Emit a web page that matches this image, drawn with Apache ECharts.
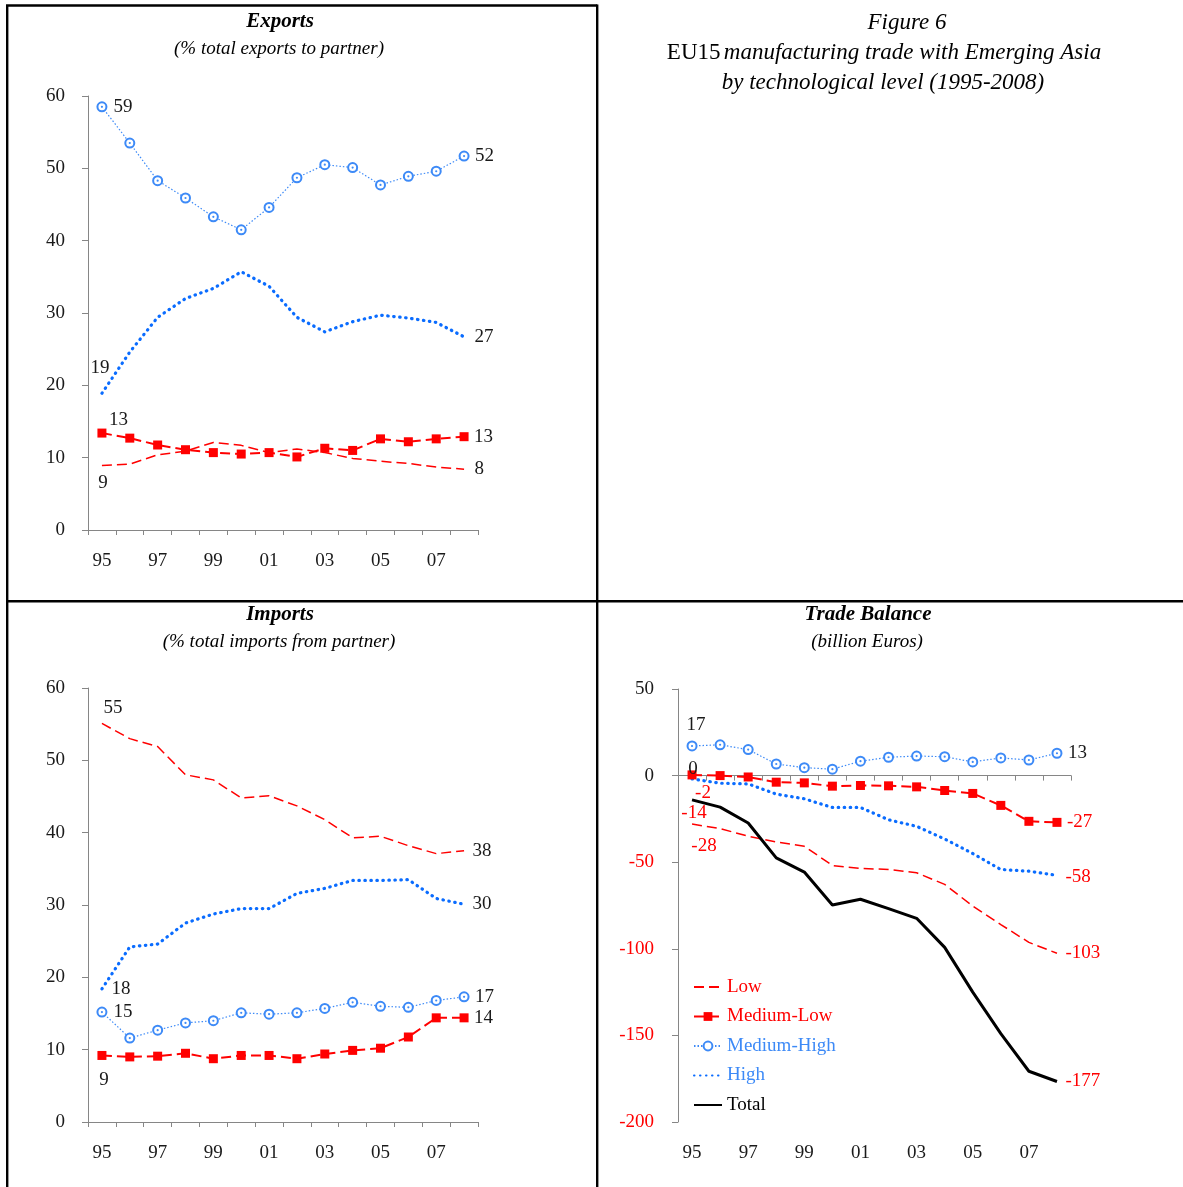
<!DOCTYPE html>
<html>
<head>
<meta charset="utf-8">
<script src="https://cdn.jsdelivr.net/npm/echarts@6/dist/echarts.min.js"></script>
<style>
html,body{margin:0;padding:0;background:#fff;}
#c{width:1183px;height:1187px;}
</style>
</head>
<body>
<div id="c"></div>
<script>
// ---------- DATA ----------
const years = ['95','96','97','98','99','00','01','02','03','04','05','06','07','08'];
const seriesNames = ['Low','Medium-Low','Medium-High','High','Total'];

// Exports (% total exports to partner)
const expLow      = [8.9, 9.1, 10.4, 10.9, 12.1, 11.7, 10.7, 11.2, 10.7, 9.9, 9.5, 9.2, 8.7, 8.4];
const expMedLow   = [13.4, 12.7, 11.75, 11.1, 10.7, 10.5, 10.7, 10.1, 11.3, 11.0, 12.6, 12.2, 12.6, 12.9];
const expMedHigh  = [58.5, 53.5, 48.3, 45.9, 43.3, 41.5, 44.6, 48.7, 50.5, 50.1, 47.7, 48.9, 49.6, 51.7];
const expHigh     = [18.9, 24.6, 29.4, 32.0, 33.4, 35.7, 33.7, 29.4, 27.4, 28.8, 29.7, 29.3, 28.7, 26.7];

// Imports (% total imports from partner)
const impLow      = [55.1, 53.0, 51.9, 48.0, 47.3, 44.8, 45.1, 43.7, 41.8, 39.3, 39.5, 38.2, 37.1, 37.5];
const impMedLow   = [9.2, 9.0, 9.1, 9.5, 8.75, 9.2, 9.2, 8.75, 9.4, 9.9, 10.2, 11.75, 14.4, 14.4];
const impMedHigh  = [15.2, 11.6, 12.7, 13.7, 14.0, 15.1, 14.9, 15.1, 15.7, 16.55, 16.0, 15.85, 16.8, 17.3];
const impHigh     = [18.4, 24.2, 24.6, 27.5, 28.75, 29.5, 29.5, 31.6, 32.3, 33.4, 33.4, 33.5, 30.9, 30.1];

// Trade balance (billion Euros)
const balLow      = [-28, -30.6, -35, -38.3, -40.8, -51.9, -53.6, -54.2, -56.1, -62.8, -75.3, -86, -96.3, -102.6];
const balMedLow   = [0.4, 0, -0.8, -3.8, -4.2, -6.1, -5.7, -5.9, -6.5, -8.6, -10.3, -17.2, -26.4, -27.0];
const balMedHigh  = [17.1, 17.8, 15.0, 6.7, 4.6, 3.7, 8.3, 10.6, 11.3, 10.9, 7.9, 10.2, 9.0, 12.9];
const balHigh     = [-1.9, -4.4, -4.8, -10.7, -13.4, -18.4, -18.4, -25.5, -29.3, -36.6, -45, -54.2, -55.2, -57.6];
const balTotal    = [-14, -18.2, -27.4, -47.5, -55.7, -74.7, -71.4, -76.8, -82.4, -99.2, -125, -149, -170.7, -176.6];

// Axis ticks
const pctTicks = {min: 0, max: 60, interval: 10};
const balTicks = {min: -200, max: 50, interval: 50};

// Titles
const figTitle1 = 'Figure 6';
const figTitle2a = 'EU15';
const figTitle2b = 'manufacturing trade with Emerging Asia';
const figTitle3 = 'by technological level (1995-2008)';
const expTitle = 'Exports', expSub = '(% total exports to partner)';
const impTitle = 'Imports', impSub = '(% total imports from partner)';
const balTitle = 'Trade Balance', balSub = '(billion Euros)';

// ---------- STYLE ----------
const FF = "'Liberation Serif', 'DejaVu Serif', serif";
const RED = '#ff0000', BLUE_MH = '#3d8af7', BLUE_H = '#0a6cff', AX = '#868686', TXT = '#1a1a1a';

const STY = {
  'Low':        {color: RED, symbol: 'none', symbolSize: 0, lineStyle: {width: 1.5, type: [10, 5]}},
  'Medium-Low': {color: RED, symbol: 'rect', symbolSize: 9, lineStyle: {width: 2, type: [10, 5]}},
  'Medium-High':{color: BLUE_MH, symbol: 'emptyCircle', symbolSize: 9, lineStyle: {width: 1.2, type: [1.5, 2]}},
  'High':       {color: BLUE_H, symbol: 'none', symbolSize: 0, lineStyle: {width: 3.2, type: [0.5, 5.5], cap: 'round'}},
  'Total':      {color: '#000', symbol: 'none', symbolSize: 0, lineStyle: {width: 3, type: 'solid'}}
};

function lbl(pos, dist, off) { return {position: pos, distance: dist, offset: off || [0, 0]}; }

function labelData(values, firstLbl, lastLbl, colorByValue) {
  return values.map((v, i) => {
    const o = {value: v};
    const L = i === 0 ? firstLbl : (i === values.length - 1 ? lastLbl : null);
    if (L) {
      o.label = Object.assign({show: true,
        color: colorByValue ? (Math.round(v) < 0 ? RED : TXT) : TXT}, L);
    }
    return o;
  });
}
const labelBase = {show: false, fontFamily: FF, fontSize: 19, formatter: p => String(Math.round(p.value))};

function makeSeries(name, values, axisIdx, firstLbl, lastLbl, colorByValue) {
  const s = STY[name];
  const hasSym = s.symbol !== 'none';
  const out = [{
    type: 'line', name: name, xAxisIndex: axisIdx.x, yAxisIndex: axisIdx.y,
    data: hasSym ? labelData(values, firstLbl, lastLbl, colorByValue) : values,
    symbol: s.symbol, symbolSize: s.symbolSize, showSymbol: hasSym,
    lineStyle: Object.assign({color: s.color}, s.lineStyle),
    itemStyle: {color: s.color, borderColor: s.color, borderWidth: s.symbol === 'emptyCircle' ? 1.2 : 0},
    label: labelBase,
    emphasis: {disabled: true}, animation: false, z: 3
  }];
  if (!hasSym) {
    out.push({
      type: 'scatter', name: '_lbl', xAxisIndex: axisIdx.x, yAxisIndex: axisIdx.y,
      data: labelData(values, firstLbl, lastLbl, colorByValue),
      symbol: 'circle', symbolSize: 1, itemStyle: {color: 'rgba(0,0,0,0)', opacity: 1},
      label: labelBase, emphasis: {disabled: true}, silent: true, animation: false, z: 5
    });
  }
  if (s.symbol === 'emptyCircle') {
    out.push({type: 'scatter', name: '_dot', xAxisIndex: axisIdx.x, yAxisIndex: axisIdx.y,
      data: values, symbol: 'circle', symbolSize: 2.2, itemStyle: {color: s.color, opacity: 1},
      emphasis: {disabled: true}, silent: true, animation: false, z: 4});
  }
  return out;
}

const g0 = {x: 0, y: 0}, g1 = {x: 1, y: 1}, g2 = {x: 2, y: 2};

const series = [].concat(
  // Exports
  makeSeries('Low', expLow, g0, lbl('bottom', 7.5, [1, 0]), lbl('right', 10)),
  makeSeries('Medium-Low', expMedLow, g0, lbl('right', 2.5, [0, -13]), lbl('right', 5.5)),
  makeSeries('Medium-High', expMedHigh, g0, lbl('right', 6), lbl('right', 5.5)),
  makeSeries('High', expHigh, g0, lbl('top', 15, [-2, 0]), lbl('right', 10)),
  // Imports
  makeSeries('Low', impLow, g1, lbl('top', 5, [11, 0]), lbl('right', 8)),
  makeSeries('Medium-Low', impMedLow, g1, lbl('bottom', 11, [2, 0]), lbl('right', 5.5)),
  makeSeries('Medium-High', impMedHigh, g1, lbl('right', 6), lbl('right', 5.5)),
  makeSeries('High', impHigh, g1, lbl('right', 9), lbl('right', 8)),
  // Trade balance
  makeSeries('Low', balLow, g2, lbl('bottom', 12, [12, 0]), lbl('right', 8), true),
  makeSeries('Medium-Low', balMedLow, g2, lbl('inside', 0, [1, -6]), lbl('right', 5.5), true),
  makeSeries('Medium-High', balMedHigh, g2, lbl('top', 6, [4, 0]), lbl('right', 5.5), true),
  makeSeries('High', balHigh, g2, lbl('bottom', 4.5, [11, 0]), lbl('right', 8, [0, 2]), true),
  makeSeries('Total', balTotal, g2, lbl('bottom', 3, [2, 0]), lbl('right', 8), true)
);

function catAxis(gridIndex) {
  return {type: 'category', gridIndex: gridIndex, data: years, boundaryGap: true,
    axisLine: {show: true, onZero: false, lineStyle: {color: AX, width: 1}},
    axisTick: {show: true, interval: 0, length: 5, lineStyle: {color: AX}},
    axisLabel: {interval: 1, margin: 22, fontFamily: FF, fontSize: 19, color: TXT},
    splitLine: {show: false}};
}
function valAxis(gridIndex, t, colorFn) {
  return {type: 'value', gridIndex: gridIndex, min: t.min, max: t.max, interval: t.interval,
    axisLine: {show: true, lineStyle: {color: AX, width: 1}},
    axisTick: {show: true, length: 6, lineStyle: {color: AX}},
    axisLabel: {margin: 23, fontFamily: FF, fontSize: 19, color: colorFn || TXT},
    splitLine: {show: false}};
}

const xAxes = [catAxis(0), catAxis(1),
  Object.assign(catAxis(2), {axisLine: {show: false, onZero: false}, axisTick: {show: false}}),
  {type: 'category', gridIndex: 2, data: years, boundaryGap: true, position: 'top',
    axisLine: {show: true, onZero: true, lineStyle: {color: AX, width: 1}},
    axisTick: {show: true, inside: true, interval: 0, length: 5, lineStyle: {color: AX}},
    axisLabel: {show: false}, splitLine: {show: false}}
];
const yAxes = [valAxis(0, pctTicks), valAxis(1, pctTicks),
  valAxis(2, balTicks, v => (Number(v) < 0 ? RED : TXT))];
yAxes[2].axisLabel.margin = 24;

function txt(t, x, y, font) {
  return {type: 'text', silent: true, z: 10,
    style: {text: t, x: x, y: y, align: 'center', verticalAlign: 'middle', font: font, fill: '#000'}};
}
function ln(x1, y1, x2, y2) {
  return {type: 'line', silent: true, z: 20, shape: {x1: x1, y1: y1, x2: x2, y2: y2},
    style: {stroke: '#000', lineWidth: 2.4}};
}
const hideSym = {color: 'rgba(0,0,0,0)', borderColor: 'rgba(0,0,0,0)', opacity: 0};

const option = {
  backgroundColor: '#fff',
  animation: false,
  grid: [
    {left: 88, top: 96, width: 390, height: 434, containLabel: false},
    {left: 88, top: 688, width: 390, height: 434, containLabel: false},
    {left: 678, top: 689, width: 393, height: 433, containLabel: false}
  ],
  xAxis: xAxes,
  yAxis: yAxes,
  legend: {
    orient: 'vertical', left: 693, top: 977.5, padding: 0, itemWidth: 28, itemHeight: 11, itemGap: 10.5,
    selectedMode: false, textStyle: {fontFamily: FF, fontSize: 19},
    data: [
      {name: 'Low', textStyle: {color: RED}, itemStyle: hideSym},
      {name: 'Medium-Low', textStyle: {color: RED}},
      {name: 'Medium-High', textStyle: {color: BLUE_MH}},
      {name: 'High', textStyle: {color: BLUE_MH}, itemStyle: hideSym},
      {name: 'Total', textStyle: {color: '#000'}, itemStyle: hideSym}
    ]
  },
  series: series,
  graphic: [
    txt(expTitle, 280, 22, 'italic bold 21px ' + FF),
    txt(expSub, 279, 49, 'italic 19px ' + FF),
    txt(impTitle, 280, 615, 'italic bold 21px ' + FF),
    txt(impSub, 279, 642, 'italic 19px ' + FF),
    txt(balTitle, 868, 615, 'italic bold 21px ' + FF),
    txt(balSub, 867, 642, 'italic 19px ' + FF),
    txt(figTitle1, 907, 23, 'italic 23px ' + FF),
    {type: 'text', silent: true, z: 10,
      style: {text: '{r|' + figTitle2a + '} {i|' + figTitle2b + '}', x: 884, y: 53,
        align: 'center', verticalAlign: 'middle', fill: '#000',
        rich: {r: {fontFamily: FF, fontSize: 23, fontStyle: 'normal', fill: '#000'},
               i: {fontFamily: FF, fontSize: 23, fontStyle: 'italic', fill: '#000'}}}},
    txt(figTitle3, 883, 83, 'italic 23px ' + FF),
    ln(7.2, 5.5, 7.2, 1187),
    ln(6, 5.5, 597.2, 5.5),
    ln(597.2, 4.5, 597.2, 1187),
    ln(6, 601.2, 1183, 601.2)
  ]
};

const chart = echarts.init(document.getElementById('c'), null, {renderer: 'canvas'});
chart.setOption(option);
</script>
</body>
</html>
